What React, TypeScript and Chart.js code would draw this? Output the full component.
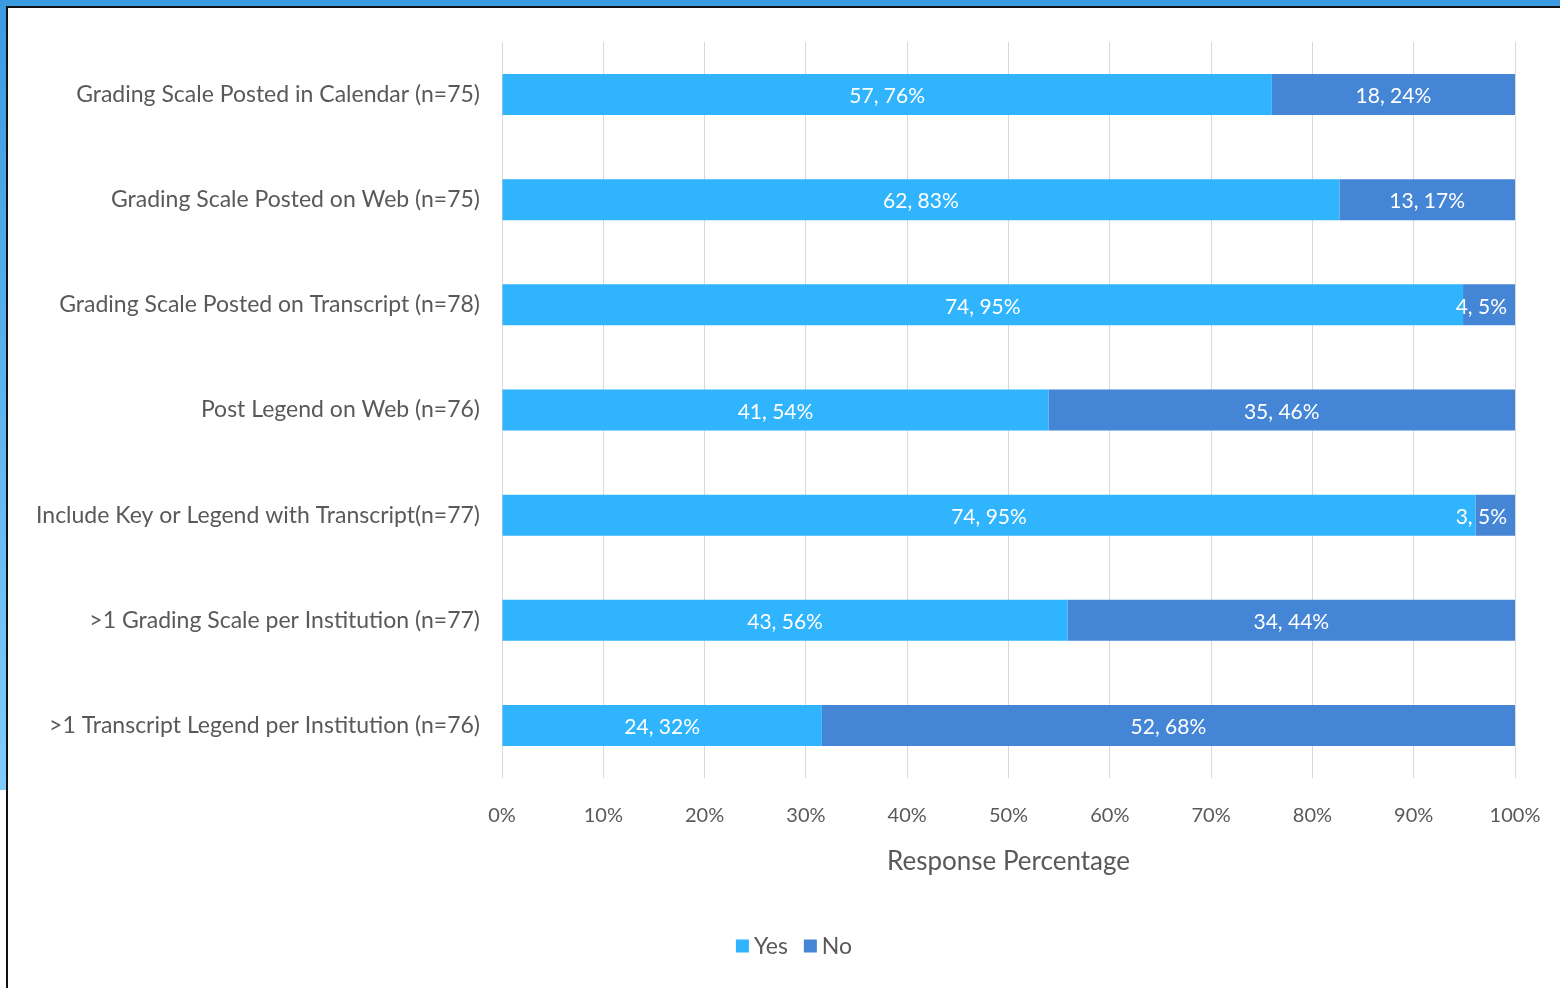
import React, { useEffect, useRef } from "react";
import { Chart, registerables } from "chart.js";

Chart.register(...registerables);

const categories = [
  "Grading Scale Posted in Calendar (n=75)",
  "Grading Scale Posted on Web (n=75)",
  "Grading Scale Posted on Transcript (n=78)",
  "Post Legend on Web (n=76)",
  "Include Key or Legend with Transcript(n=77)",
  ">1 Grading Scale per Institution (n=77)",
  ">1 Transcript Legend per Institution (n=76)",
];
const yesCounts = [57, 62, 74, 41, 74, 43, 24];
const noCounts = [18, 13, 4, 35, 3, 34, 52];
const yesPctLabels = ["76%", "83%", "95%", "54%", "95%", "56%", "32%"];
const noPctLabels = ["24%", "17%", "5%", "46%", "5%", "44%", "68%"];
const xTicks = ["0%", "10%", "20%", "30%", "40%", "50%", "60%", "70%", "80%", "90%", "100%"];

const YES_COLOR = "#2fb4fd";
const NO_COLOR = "#4585d6";
const TEXT = "#595959";
const FONT = "Lato";

const share = (a: number[], b: number[]) => a.map((v, i) => (v / (a[i] + b[i])) * 100);

const labelPlugin = {
  id: "segLabels",
  afterDatasetsDraw(chart: any) {
    const ctx = chart.ctx;
    const right = chart.chartArea.right;
    ctx.save();
    ctx.fillStyle = "#ffffff";
    ctx.font = `21px ${FONT}`;
    ctx.textAlign = "center";
    ctx.textBaseline = "middle";
    chart.data.datasets.forEach((ds: any, di: number) => {
      const meta = chart.getDatasetMeta(di);
      meta.data.forEach((bar: any, i: number) => {
        const text = `${ds.counts[i]}, ${ds.pctLabels[i]}`;
        const w = ctx.measureText(text).width;
        let cx = (bar.x + bar.base) / 2;
        if (cx + w / 2 > right - 8) cx = right - 8 - w / 2;
        ctx.fillText(text, cx, bar.y + 2);
      });
    });
    ctx.restore();
  },
  afterDraw(chart: any) {
    const ctx = chart.ctx;
    ctx.save();
    ctx.font = `23px ${FONT}`;
    ctx.textBaseline = "middle";
    const box = 13;
    const gap = 5;
    const itemGap = 16;
    const items = chart.data.datasets.map((d: any) => ({ label: d.label, color: d.backgroundColor }));
    const widths = items.map((it: any) => box + gap + ctx.measureText(it.label).width);
    const total = widths.reduce((s: number, w: number) => s + w, 0) + itemGap * (items.length - 1);
    let x = chart.width / 2 + 10 - total / 2;
    const y = 938;
    items.forEach((it: any, i: number) => {
      ctx.fillStyle = it.color;
      ctx.fillRect(x, y - box / 2, box, box);
      ctx.fillStyle = TEXT;
      ctx.fillText(it.label, x + box + gap, y + 1);
      x += widths[i] + itemGap;
    });
    ctx.restore();
  },
};

function App() {
  const ref = useRef<HTMLCanvasElement | null>(null);
  useEffect(() => {
    if (!ref.current) return;
    const chart = new Chart(ref.current, {
      type: "bar",
      data: {
        labels: categories,
        datasets: [
          {
            label: "Yes",
            data: share(yesCounts, noCounts),
            backgroundColor: YES_COLOR,
            counts: yesCounts,
            pctLabels: yesPctLabels,
          } as any,
          {
            label: "No",
            data: share(noCounts, yesCounts),
            backgroundColor: NO_COLOR,
            counts: noCounts,
            pctLabels: noPctLabels,
          } as any,
        ],
      },
      options: {
        indexAxis: "y",
        animation: false,
        responsive: false,
        maintainAspectRatio: false,
        layout: { padding: { left: 0, right: 45, top: 34, bottom: 111 } },
        datasets: { bar: { barPercentage: 0.39, categoryPercentage: 1 } },
        plugins: { legend: { display: false }, tooltip: { enabled: false } },
        scales: {
          x: {
            stacked: true,
            min: 0,
            max: 100,
            afterFit: (s: any) => {
              s.height = 99;
              s.paddingLeft = 0;
              s.paddingRight = 0;
            },
            grid: { color: "#d9d9d9", drawTicks: false, lineWidth: 1 },
            border: { display: false },
            ticks: {
              stepSize: 10,
              padding: 26,
              color: TEXT,
              font: { family: FONT, size: 20 },
              callback: (_v: any, i: number) => xTicks[i],
            },
            title: {
              display: true,
              text: "Response Percentage",
              color: TEXT,
              font: { family: FONT, size: 26 },
              padding: 0,
            },
          },
          y: {
            stacked: true,
            afterFit: (s: any) => {
              s.width = 494;
              s.paddingTop = 0;
              s.paddingBottom = 0;
            },
            grid: { display: false, drawTicks: false },
            border: { display: false },
            ticks: {
              padding: 22,
              color: TEXT,
              font: { family: FONT, size: 23 },
            },
          },
        },
      },
      plugins: [labelPlugin],
    });
    return () => chart.destroy();
  }, []);

  return (
    <div style={{ position: "fixed", left: 0, top: 0, width: 1560, height: 988, background: "#ffffff", overflow: "hidden" }}>
      <div style={{ position: "absolute", left: 0, top: 0, width: 1560, height: 6, background: "#3a9be0" }} />
      <div
        style={{
          position: "absolute",
          left: 0,
          top: 0,
          width: 6,
          height: 790,
          background: "linear-gradient(#3a9be0, #7fcdfd)",
        }}
      />
      <div style={{ position: "absolute", left: 6, top: 6, width: 1554, height: 2, background: "#111111" }} />
      <div style={{ position: "absolute", left: 6, top: 6, width: 2, height: 982, background: "#111111" }} />
      <canvas
        ref={ref}
        width={1552}
        height={980}
        style={{ position: "absolute", left: 8, top: 8, width: 1552, height: 980 }}
      />
    </div>
  );
}

export default App;
